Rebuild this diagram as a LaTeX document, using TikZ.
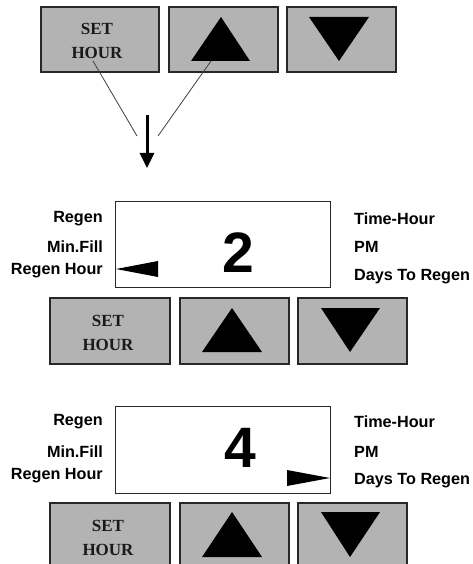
\documentclass[tikz,border=0pt]{standalone}
\usepackage{fontspec}
\setmainfont{Liberation Serif}
\setsansfont{Liberation Sans}
\usetikzlibrary{arrows.meta}
\definecolor{btngray}{RGB}{179,179,179}
\definecolor{edgegray}{RGB}{40,40,40}
\begin{document}
\begin{tikzpicture}[x=1pt,y=-1pt,
  btn/.style={draw=edgegray, line width=1.6pt, fill=btngray, inner sep=0pt, anchor=north west},
  btntext/.style={font=\fontsize{17}{24}\selectfont\bfseries, align=center, text=black!90, inner sep=0pt},
  display/.style={draw=edgegray, line width=1.4pt, fill=white, inner sep=0pt, anchor=north west, minimum width=215pt, minimum height=86pt},
  digit/.style={font=\fontsize{57}{57}\selectfont\sffamily\bfseries, inner sep=0pt},
  lbl/.style={font=\fontsize{16.2}{18}\selectfont\sffamily\bfseries, inner sep=0pt},
  lbll/.style={lbl, anchor=east},
  lblr/.style={lbl, anchor=west},
  tri/.style={fill=black},
  guide/.style={draw=black!75, line width=0.8pt},
]
\useasboundingbox (0,0) rectangle (472,564);
\clip (0,0) rectangle (472,564);

% ---------- top row of buttons ----------
\node[btn, minimum width=118pt, minimum height=65pt] (s1) at (40,6) {};
\node[btn, minimum width=109pt, minimum height=65pt] (u1) at (168,6) {};
\node[btn, minimum width=109pt, minimum height=65pt] (d1) at (286,6) {};
\node[btntext] (t1) at (97,40.5) {SET\\HOUR};
\fill[tri] (221,17) -- (191,61) -- (250,61) -- cycle;
\fill[tri] (309,17) -- (369,17) -- (339,61) -- cycle;
\coordinate (t1end) at (93,61);
\coordinate (u1end) at (211,61);
\coordinate (m1) at (137,136);
\coordinate (m2) at (158,136);
\draw[guide] (t1end) -- (m1);
\draw[guide] (u1end) -- (m2);
\coordinate (arrA) at (147,115);
\coordinate (arrB) at (147,168);
\draw[line width=3pt, -{Triangle[width=14pt,length=15pt]}] (arrA) -- (arrB);

% ---------- middle panel ----------
\node[display] (disp1) at (115,201) {};
\node[digit] (dig1) at (238,253) {2};
\node[lbll] (l1a) at (103,219) {Regen};
\node[lbll] (l1b) at (103,247) {Min.Fill};
\node[lbll] (l1c) at (103,271) {Regen Hour};
\node[lblr] (r1a) at (354,219) {Time-Hour};
\node[lblr] (r1b) at (354,247) {PM};
\node[lblr] (r1c) at (354,277) {Days To Regen};
\fill[tri] (116,269) -- (158,261) -- (158,277) -- cycle;

\node[btn, minimum width=120pt, minimum height=66pt] (s2) at (49,297) {};
\node[btn, minimum width=109pt, minimum height=66pt] (u2) at (179,297) {};
\node[btn, minimum width=109pt, minimum height=66pt] (d2) at (297,297) {};
\node[btntext] (t2) at (108,333) {SET\\HOUR};
\fill[tri] (232,308) -- (202,352) -- (262,352) -- cycle;
\fill[tri] (321,308) -- (380,308) -- (350,352) -- cycle;

% ---------- bottom panel ----------
\node[display, minimum height=87pt] (disp2) at (115,406) {};
\node[digit] (dig2) at (240,448) {4};
\node[lbll] (l2a) at (103,422) {Regen};
\node[lbll] (l2b) at (103,452) {Min.Fill};
\node[lbll] (l2c) at (103,476) {Regen Hour};
\node[lblr] (r2a) at (354,422) {Time-Hour};
\node[lblr] (r2b) at (354,452) {PM};
\node[lblr] (r2c) at (354,481) {Days To Regen};
\fill[tri] (330,478) -- (287,470) -- (287,486) -- cycle;

\node[btn, minimum width=120pt, minimum height=66pt] (s3) at (49,502) {};
\node[btn, minimum width=109pt, minimum height=66pt] (u3) at (179,502) {};
\node[btn, minimum width=109pt, minimum height=66pt] (d3) at (297,502) {};
\node[btntext] (t3) at (108,538) {SET\\HOUR};
\fill[tri] (232,512) -- (202,557) -- (262,557) -- cycle;
\fill[tri] (321,512) -- (380,512) -- (350,557) -- cycle;
\end{tikzpicture}
\end{document}
